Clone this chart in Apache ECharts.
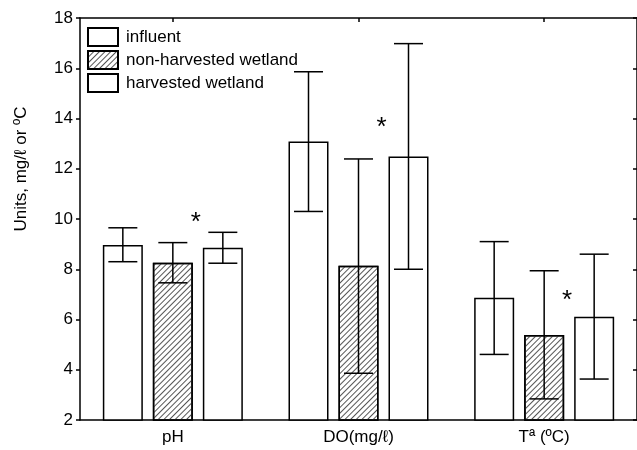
<!DOCTYPE html>
<html>
<head>
<meta charset="utf-8">
<script src="https://cdn.jsdelivr.net/npm/echarts@6/dist/echarts.min.js"></script>
<style>
html, body { margin: 0; padding: 0; background: #fff; }
#main { width: 637px; height: 450px; }
</style>
</head>
<body>
<div id="main"></div>
<script>
// categories and series
var categories = ["pH", "DO(mg/ℓ)", "Tª (ºC)"];
var seriesNames = ["influent", "non-harvested wetland", "harvested wetland"];
var influent = [8.97, 13.08, 6.87];
var nonHarvested = [8.26, 8.14, 5.38];
var harvested = [8.86, 12.49, 6.11];
// error bars [low, high]
var influentErr = [[8.30, 9.65], [10.30, 15.86], [4.61, 9.10]];
var nonHarvestedErr = [[7.46, 9.06], [3.86, 12.39], [2.84, 7.94]];
var harvestedErr = [[8.24, 9.47], [8.00, 16.98], [3.63, 8.60]];
// level of the significance asterisk in each group
var starLevels = [10.1, 13.87, 6.97];

var font = '"Liberation Sans", Arial, sans-serif';
var chart = echarts.init(document.getElementById("main"));

function errData(errs) {
  return errs.map(function (e, i) { return [i, e[0], e[1]]; });
}

function errSeries(errs, offset) {
  return {
    type: "custom",
    z: 5,
    silent: true,
    data: errData(errs),
    encode: { x: 0, y: [1, 2] },
    renderItem: function (params, api) {
      var lo = api.coord([api.value(0), api.value(1)]);
      var hi = api.coord([api.value(0), api.value(2)]);
      var cx = lo[0] + offset;
      var half = 14.5;
      var st = { stroke: "#000", lineWidth: 1.5 };
      return {
        type: "group",
        children: [
          { type: "line", shape: { x1: cx, y1: lo[1], x2: cx, y2: hi[1] }, style: st },
          { type: "line", shape: { x1: cx - half, y1: lo[1], x2: cx + half, y2: lo[1] }, style: st },
          { type: "line", shape: { x1: cx - half, y1: hi[1], x2: cx + half, y2: hi[1] }, style: st }
        ]
      };
    }
  };
}

function barSeries(name, data, hatched) {
  var s = {
    name: name,
    type: "bar",
    data: data,
    barWidth: 40,
    barGap: "25%",
    itemStyle: { color: "#fff", borderColor: "#000", borderWidth: 1.5 }
  };
  if (hatched) {
    s.itemStyle.decal = {
      symbol: "rect",
      color: "#555",
      dashArrayX: [1, 0],
      dashArrayY: [1, 3],
      rotation: -Math.PI / 4,
      symbolSize: 1
    };
  }
  return s;
}

var axisLine = { show: true, lineStyle: { color: "#000", width: 1.5 } };

var option = {
  animation: false,
  backgroundColor: "#fff",
  grid: { left: 80, top: 18, width: 560, height: 402 },
  legend: {
    data: seriesNames,
    orient: "vertical",
    icon: "rect",
    left: 82,
    top: 22,
    itemWidth: 30,
    itemHeight: 18,
    itemGap: 3,
    textStyle: { fontSize: 17, color: "#000", fontFamily: font, padding: [0, 0, 0, 3] }
  },
  xAxis: [
    {
      type: "category",
      data: categories,
      axisLine: axisLine,
      axisTick: { show: false },
      axisLabel: { fontSize: 17, color: "#000", fontFamily: font, margin: 9 }
    },
    {
      type: "category",
      data: categories,
      position: "top",
      axisLine: axisLine,
      axisTick: { show: true, inside: true, alignWithLabel: true, length: 4, lineStyle: { color: "#000", width: 1.5 } },
      axisLabel: { show: false }
    }
  ],
  yAxis: [
    {
      type: "value",
      min: 2,
      max: 18,
      interval: 2,
      axisLine: axisLine,
      axisTick: { show: true, length: 4, lineStyle: { color: "#000", width: 1.5 } },
      axisLabel: { fontSize: 17, color: "#000", fontFamily: font, margin: 7 },
      splitLine: { show: false }
    },
    {
      type: "value",
      min: 2,
      max: 18,
      interval: 2,
      position: "right",
      axisLine: axisLine,
      axisTick: { show: true, inside: true, length: 4, lineStyle: { color: "#000", width: 1.5 } },
      axisLabel: { show: false },
      splitLine: { show: false }
    }
  ],
  graphic: [
    {
      type: "text",
      x: 21,
      y: 169,
      rotation: Math.PI / 2,
      style: {
        text: "Units, mg/ℓ or ºC",
        font: "17px " + font,
        fill: "#000",
        textAlign: "center",
        textVerticalAlign: "middle"
      }
    }
  ],
  series: [
    barSeries(seriesNames[0], influent, false),
    barSeries(seriesNames[1], nonHarvested, true),
    barSeries(seriesNames[2], harvested, false),
    errSeries(influentErr, -50),
    errSeries(nonHarvestedErr, 0),
    errSeries(harvestedErr, 50),
    {
      type: "custom",
      z: 6,
      silent: true,
      data: starLevels.map(function (v, i) { return [i, v]; }),
      renderItem: function (params, api) {
        var p = api.coord([api.value(0), api.value(1)]);
        return {
          type: "text",
          x: p[0] + 23,
          y: p[1] + 6,
          style: {
            text: "*",
            font: "26px " + font,
            fill: "#000",
            textAlign: "center",
            textVerticalAlign: "middle"
          }
        };
      }
    }
  ]
};

chart.setOption(option);
</script>
</body>
</html>
